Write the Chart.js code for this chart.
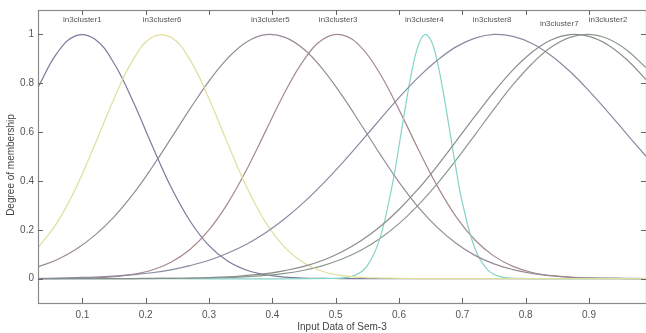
<!DOCTYPE html>
<html>
<head>
<meta charset="utf-8">
<script src="https://cdn.jsdelivr.net/npm/chart.js@4.4.1/dist/chart.umd.min.js"></script>
<style>
html, body { margin: 0; padding: 0; background: #fff; }
</style>
</head>
<body>
<canvas id="plot" width="646" height="333"></canvas>
<script>
// sample positions on the input axis
var xGrid = [0.03, 0.06, 0.09, 0.12, 0.15, 0.18, 0.21, 0.24, 0.27, 0.30, 0.33,
             0.36, 0.39, 0.42, 0.45, 0.48, 0.51, 0.54, 0.57, 0.60, 0.63, 0.66,
             0.69, 0.72, 0.75, 0.78, 0.81, 0.84, 0.87, 0.90, 0.93, 0.96, 0.99];
var xCluster4 = [0.03, 0.50, 0.53, 0.55, 0.57, 0.59, 0.60, 0.61, 0.62, 0.63, 0.64,
                 0.65, 0.66, 0.67, 0.68, 0.69, 0.70, 0.72, 0.74, 0.76, 0.79, 0.99];

var cluster1 = [0.783, 0.923, 0.995, 0.980, 0.882, 0.726, 0.546, 0.375, 0.236, 0.135, 0.071,
                0.034, 0.015, 0.006, 0.002, 0.001, 0, 0, 0, 0, 0, 0,
                0, 0, 0, 0, 0, 0, 0, 0, 0, 0, 0];
var cluster2 = [0, 0, 0, 0, 0, 0, 0, 0.001, 0.001, 0.002, 0.004,
                0.008, 0.013, 0.021, 0.034, 0.053, 0.080, 0.116, 0.164, 0.225, 0.300, 0.387,
                0.485, 0.589, 0.694, 0.794, 0.880, 0.947, 0.988, 1.000, 0.982, 0.935, 0.864];
var cluster3 = [0, 0, 0.001, 0.003, 0.008, 0.017, 0.035, 0.067, 0.119, 0.199, 0.310,
                0.449, 0.607, 0.764, 0.896, 0.980, 0.998, 0.948, 0.839, 0.692, 0.532, 0.381,
                0.254, 0.158, 0.092, 0.050, 0.025, 0.012, 0.005, 0.002, 0.001, 0, 0];
var cluster4 = [0, 0.001, 0.013, 0.053, 0.166, 0.392, 0.543, 0.701, 0.846, 0.951, 0.999,
                0.978, 0.894, 0.762, 0.607, 0.450, 0.312, 0.122, 0.036, 0.008, 0.001, 0];
var cluster5 = [0.048, 0.077, 0.120, 0.178, 0.253, 0.346, 0.455, 0.574, 0.695, 0.809, 0.904,
                0.970, 0.999, 0.988, 0.939, 0.856, 0.750, 0.631, 0.510, 0.395, 0.294, 0.211,
                0.145, 0.095, 0.060, 0.037, 0.021, 0.012, 0.006, 0.003, 0.002, 0.001, 0];
var cluster6 = [0.127, 0.228, 0.372, 0.550, 0.737, 0.896, 0.988, 0.988, 0.896, 0.737, 0.550,
                0.372, 0.228, 0.127, 0.064, 0.029, 0.012, 0.005, 0.002, 0.001, 0, 0,
                0, 0, 0, 0, 0, 0, 0, 0, 0, 0, 0];
var cluster7 = [0, 0, 0, 0, 0, 0, 0.001, 0.001, 0.002, 0.004, 0.007,
                0.013, 0.020, 0.033, 0.050, 0.075, 0.110, 0.155, 0.212, 0.283, 0.366, 0.460,
                0.562, 0.665, 0.765, 0.855, 0.927, 0.977, 0.999, 0.992, 0.957, 0.896, 0.815];
var cluster8 = [0.001, 0.002, 0.004, 0.006, 0.010, 0.016, 0.024, 0.036, 0.053, 0.075, 0.105,
                0.142, 0.189, 0.246, 0.313, 0.389, 0.472, 0.561, 0.652, 0.741, 0.823, 0.893,
                0.949, 0.985, 1.000, 0.992, 0.963, 0.914, 0.848, 0.769, 0.682, 0.591, 0.501];

var clusterNames = ['in3cluster1', 'in3cluster2', 'in3cluster3', 'in3cluster4',
                    'in3cluster5', 'in3cluster6', 'in3cluster7', 'in3cluster8'];
// where each name sits, in data units
var nameX = [0.100, 0.930, 0.504, 0.640, 0.397, 0.226, 0.853, 0.747];
var nameY = [1.060, 1.060, 1.060, 1.060, 1.060, 1.060, 1.045, 1.060];

var xTicks = [0.1, 0.2, 0.3, 0.4, 0.5, 0.6, 0.7, 0.8, 0.9];
var xTickText = ['0.1', '0.2', '0.3', '0.4', '0.5', '0.6', '0.7', '0.8', '0.9'];
var yTicks = [0, 0.2, 0.4, 0.6, 0.8, 1];
var yTickText = ['0', '0.2', '0.4', '0.6', '0.8', '1'];

var xTitle = 'Input Data of Sem-3';
var yTitle = 'Degree of membership';

// faded matlab line colours
var colours = ['#7a7a9c', '#8a9a8a', '#a48a8e', '#86d2c8',
               '#978a98', '#e0de9c', '#8c8c8c', '#8a8aa0'];

var FONT = "'Liberation Sans', Arial, sans-serif";

var pts = function(xs, ys){
	return ys.map(function(v, i){ return {x: xs[i], y: v}; });
};

var series = [
	pts(xGrid, cluster1), pts(xGrid, cluster2), pts(xGrid, cluster3), pts(xCluster4, cluster4),
	pts(xGrid, cluster5), pts(xGrid, cluster6), pts(xGrid, cluster7), pts(xGrid, cluster8)
];

var datasets = series.map(function(d, i){
	return {
		label: clusterNames[i],
		data: d,
		borderColor: colours[i],
		borderWidth: 1.2,
		pointRadius: 0,
		fill: false,
		tension: 0.4,
		order: 8 - i   // later clusters on top, like matlab
	};
});

// box, inward ticks, cluster names, y title
var decorations = {
	id: 'decorations',
	afterDatasetsDraw: function(chart){
		var ctx = chart.ctx, a = chart.chartArea, x = chart.scales.x, y = chart.scales.y;
		ctx.save();
		ctx.strokeStyle = '#8a8a8a';
		ctx.lineWidth = 1.2;
		ctx.strokeRect(a.left + 0.5, a.top + 0.5, a.right - a.left, a.bottom - a.top);
		ctx.strokeStyle = '#666';
		ctx.lineWidth = 1;
		ctx.beginPath();
		xTicks.forEach(function(v){
			var px = Math.round(x.getPixelForValue(v)) + 0.5;
			ctx.moveTo(px, a.bottom); ctx.lineTo(px, a.bottom - 5);
			ctx.moveTo(px, a.top); ctx.lineTo(px, a.top + 5);
		});
		yTicks.forEach(function(v){
			var py = Math.round(y.getPixelForValue(v)) + 0.5;
			ctx.moveTo(a.left, py); ctx.lineTo(a.left + 5, py);
			ctx.moveTo(a.right, py); ctx.lineTo(a.right - 5, py);
		});
		ctx.stroke();

		ctx.fillStyle = '#555';
		ctx.font = '8px ' + FONT;
		ctx.textAlign = 'center';
		ctx.textBaseline = 'middle';
		clusterNames.forEach(function(n, i){
			ctx.fillText(n, x.getPixelForValue(nameX[i]), y.getPixelForValue(nameY[i]));
		});

		ctx.fillStyle = '#444';
		ctx.font = '10px ' + FONT;
		ctx.translate(11, 165);
		ctx.rotate(-Math.PI / 2);
		ctx.fillText(yTitle, 0, 0);
		ctx.restore();
	}
};

new Chart(document.getElementById('plot').getContext('2d'), {
	type: 'line',
	data: { datasets: datasets },
	plugins: [decorations],
	options: {
		responsive: false,
		animation: false,
		layout: { padding: { top: 8, right: 0, bottom: 0, left: 0 } },
		plugins: { legend: { display: false }, tooltip: { enabled: false } },
		scales: {
			x: {
				type: 'linear', min: 0.03, max: 0.99,
				afterBuildTicks: function(s){ s.ticks = xTicks.map(function(v){ return {value: v}; }); },
				afterFit: function(s){ s.height = 30; },
				grid: { display: false, drawTicks: false }, border: { display: false },
				ticks: {
					autoSkip: false, maxRotation: 0, padding: 6, color: '#555',
					font: { family: FONT, size: 10 },
					callback: function(v, i){ return xTickText[i]; }
				},
				title: {
					display: true, text: xTitle, color: '#444',
					font: { family: FONT, size: 10 }, padding: { top: 0, bottom: 0 }
				}
			},
			y: {
				type: 'linear', min: -0.1, max: 1.1,
				afterBuildTicks: function(s){ s.ticks = yTicks.map(function(v){ return {value: v}; }); },
				afterFit: function(s){ s.width = 38; },
				grid: { display: false, drawTicks: false }, border: { display: false },
				ticks: {
					autoSkip: false, padding: 4, color: '#555',
					font: { family: FONT, size: 10 },
					callback: function(v, i){ return yTickText[i]; }
				}
			}
		}
	}
});
</script>
</body>
</html>
